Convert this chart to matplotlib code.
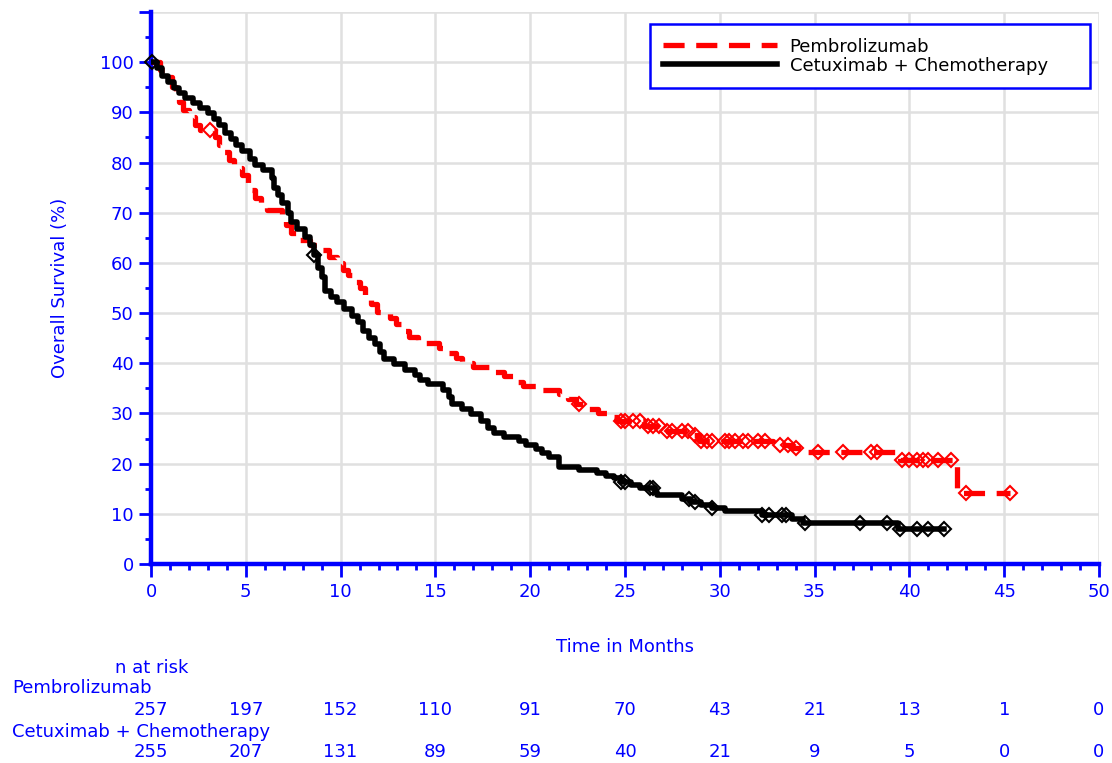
import numpy as np
import matplotlib
matplotlib.use("Agg")
import matplotlib.pyplot as plt
from matplotlib.lines import Line2D
from matplotlib.transforms import blended_transform_factory

# Kaplan-Meier step knots (months, survival %)
pem_t = [0, 0.5, 0.9, 1.1, 1.3, 1.5, 1.7, 2.0, 2.3, 2.6, 3.4, 3.6, 3.8, 4.1, 4.4, 4.8,
         5.1, 5.3, 5.5, 5.8, 6.1, 6.9, 7.1, 7.4, 7.8, 8.4, 9.0, 9.4, 9.8, 10.1, 10.4,
         10.7, 11.0, 11.3, 11.6, 11.9, 12.6, 12.9, 13.3, 13.6, 14.1, 15.2, 15.6, 16.1,
         16.4, 17.0, 18.1, 18.6, 19.2, 19.6, 20.6, 21.5, 22.0, 22.4, 23.0, 23.6, 24.2,
         24.6, 26.0, 27.0, 28.6, 28.9, 32.8, 33.8, 34.6, 39.4, 39.5, 42.5, 45.3]
pem_s = [100, 98.5, 97, 95, 93.5, 92, 90.5, 89, 87.5, 86.5, 85, 83.5, 82, 80.5, 79, 77.5,
         76, 74.5, 73, 71.5, 70.5, 69, 67.5, 66, 64.5, 63.5, 62.5, 61.2, 60, 58.6, 57.5,
         56.2, 55, 53.2, 51.8, 50.2, 49, 47.8, 46.5, 45.2, 44.1, 43, 42, 41,
         40, 39.2, 38.2, 37.4, 36.3, 35.5, 34.7, 33.8, 32.8, 31.8, 30.8, 30.0, 29.2,
         28.4, 27.6, 26.6, 25.8, 24.6, 23.8, 23.1, 22.4, 21.2, 20.8, 14.2, 14.2]
pem_cens = [3.1, 22.6, 24.8, 25.0, 25.4, 25.8, 26.2, 26.5, 26.8, 27.2, 27.5, 28.0, 28.3,
            28.7, 29.0, 29.3, 29.6, 30.3, 30.5, 30.8, 31.2, 31.5, 32.0, 32.4, 33.2, 33.6,
            34.0, 35.2, 36.5, 38.0, 38.3, 39.6, 40.0, 40.4, 40.7, 41.0, 41.5, 42.2, 43.0, 45.3]

cet_t = [0, 0.3, 0.6, 0.9, 1.2, 1.5, 1.8, 2.2, 2.6, 3.0, 3.3, 3.6, 3.9, 4.2, 4.5, 4.8,
         5.2, 5.5, 5.9, 6.4, 6.5, 6.7, 6.9, 7.2, 7.4, 7.7, 8.1, 8.4, 8.6, 8.8, 9.0, 9.2,
         9.5, 9.8, 10.2, 10.6, 10.9, 11.2, 11.5, 11.8, 12.1, 12.3, 12.8, 13.4, 13.9, 14.2,
         14.6, 15.4, 15.7, 15.9, 16.4, 16.9, 17.4, 17.8, 18.1, 18.6, 19.4, 19.8, 20.3,
         20.6, 21.0, 21.5, 22.6, 23.5, 24.0, 24.4, 24.8, 25.3, 25.8, 26.6, 26.7, 28.0,
         28.5, 29.0, 29.6, 30.3, 32.2, 33.8, 34.4, 39.4, 41.8]
cet_s = [100, 98.8, 97.3, 96, 94.8, 93.8, 92.8, 91.8, 90.8, 89.8, 88.6, 87.4, 85.8, 84.6,
         83.5, 82.2, 80.8, 79.6, 78.6, 77, 75, 73.5, 72, 70, 68.2, 66.8, 65.2, 63.5, 61.5,
         59, 57.2, 54.4, 53.2, 52.2, 50.8, 49.4, 48.2, 46.4, 45, 43.8, 42.2, 40.8, 39.8,
         38.6, 37.6, 36.6, 35.8, 34.6, 33.2, 31.8, 30.8, 29.8, 28.5, 27.2, 26.2, 25.3,
         24.6, 23.8, 22.9, 22.1, 21.4, 19.3, 18.8, 18.2, 17.6, 17.1, 16.4, 15.7, 15.1,
         14.3, 13.8, 13.0, 12.4, 11.8, 11.2, 10.5, 9.7, 8.9, 8.2, 7.0, 7.0]
cet_cens = [0.05, 8.6, 24.8, 25.0, 26.3, 26.5, 28.4, 28.7, 29.6, 32.2, 32.6, 33.3, 33.5,
            34.5, 37.4, 38.8, 39.5, 40.4, 41.0, 41.8]

risk_times = [0, 5, 10, 15, 20, 25, 30, 35, 40, 45, 50]
risk_pem = [257, 197, 152, 110, 91, 70, 43, 21, 13, 1, 0]
risk_cet = [255, 207, 131, 89, 59, 40, 21, 9, 5, 0, 0]

arm_names = ["Pembrolizumab", "Cetuximab + Chemotherapy"]

BLUE = "#0000ff"
GRID = "#e0e0e0"
plt.rcParams['font.family'] = ['DejaVu Sans']


def step_value(times, surv, x):
    i = np.searchsorted(times, x, side="right") - 1
    return np.asarray(surv)[np.clip(i, 0, len(surv) - 1)]


fig = plt.figure(figsize=(11.12, 7.63), dpi=100)
ax = fig.add_axes([0.1358, 0.2608, 0.8525, 0.7235])

ax.set_xlim(0, 50)
ax.set_ylim(0, 110)

ax.set_xticks(range(0, 51, 5))
ax.set_xticks(range(0, 51), minor=True)
ax.set_yticks(range(0, 111, 10))
ax.set_yticklabels([str(v) for v in range(0, 101, 10)] + [""])
ax.set_yticks(range(5, 110, 10), minor=True)

ax.grid(True, which="major", color=GRID, linewidth=1.8, zorder=0)
ax.set_axisbelow(True)

for side in ["top", "right"]:
    ax.spines[side].set_visible(False)
for side in ["left", "bottom"]:
    ax.spines[side].set_color(BLUE)
    ax.spines[side].set_linewidth(3.2)

ax.tick_params(which="both", direction="out", color=BLUE, width=2, labelcolor=BLUE,
               labelsize=13)
ax.tick_params(which="major", length=9)
ax.tick_params(which="minor", length=4.5)
ax.tick_params(axis="x", pad=5)

# curves
ax.plot(pem_t, pem_s, drawstyle="steps-post", color="red", lw=3.8,
        linestyle=(0, (4, 2.2)), zorder=3)
ax.plot(cet_t, cet_s, drawstyle="steps-post", color="black", lw=4.0, zorder=4)

ax.plot(pem_cens, step_value(pem_t, pem_s, pem_cens), linestyle="none", marker="D",
        markersize=7, markerfacecolor="none", markeredgecolor="red", markeredgewidth=1.5,
        zorder=5, clip_on=False)
ax.plot(cet_cens, step_value(cet_t, cet_s, cet_cens), linestyle="none", marker="D",
        markersize=7, markerfacecolor="none", markeredgecolor="black", markeredgewidth=1.5,
        zorder=6, clip_on=False)

ax.set_xlabel("Time in Months", color=BLUE, fontsize=13, labelpad=26)
ax.set_ylabel("Overall Survival (%)", color=BLUE, fontsize=13, labelpad=22)

handles = [Line2D([], [], color="red", lw=3.8, linestyle=(0, (4, 2.2))),
           Line2D([], [], color="black", lw=4.0)]
leg = ax.legend(handles, arm_names, loc="upper left", bbox_to_anchor=(0.526, 0.855, 0.464, 0.123),
                mode="expand", borderaxespad=0, fancybox=False, framealpha=1,
                edgecolor=BLUE, fontsize=13, handlelength=6.3, handletextpad=0.7,
                labelspacing=0.05, borderpad=0.75)
leg.get_frame().set_linewidth(1.8)

# number at risk table
tr = blended_transform_factory(ax.transData, fig.transFigure)
fig.text(0.1365, 1 - 668 / 763, "n at risk", color=BLUE, fontsize=13, ha="center", va="center")
fig.text(0.011, 1 - 688 / 763, arm_names[0], color=BLUE, fontsize=13, ha="left", va="center")
fig.text(0.011, 1 - 732 / 763, arm_names[1], color=BLUE, fontsize=13, ha="left", va="center")
for t, a, b in zip(risk_times, risk_pem, risk_cet):
    ax.text(t, 1 - 710 / 763, str(a), transform=tr, color=BLUE, fontsize=13,
            ha="center", va="center", clip_on=False)
    ax.text(t, 1 - 752 / 763, str(b), transform=tr, color=BLUE, fontsize=13,
            ha="center", va="center", clip_on=False)

fig.savefig("out.png", dpi=100)
